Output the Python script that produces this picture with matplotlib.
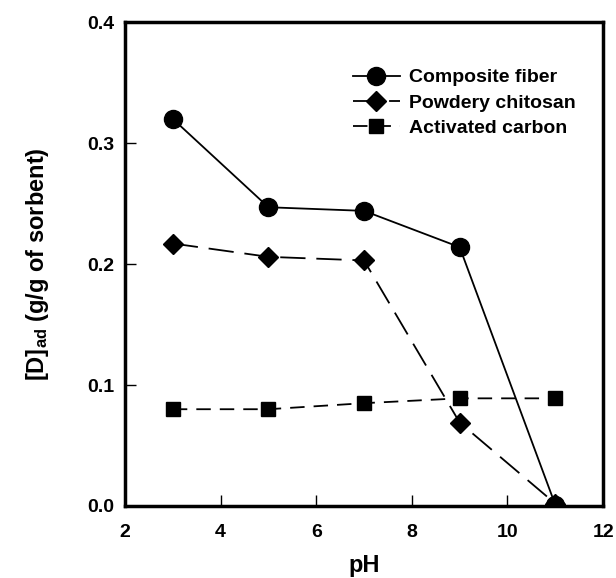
import matplotlib
matplotlib.use("Agg")
import matplotlib.pyplot as plt

plt.rcParams['font.family'] = ['Liberation Sans', 'DejaVu Sans']
plt.rcParams['font.weight'] = 'bold'
plt.rcParams['mathtext.fontset'] = 'custom'
plt.rcParams['mathtext.rm'] = 'Liberation Sans:bold'
plt.rcParams['mathtext.default'] = 'rm'

ph = [3, 5, 7, 9, 11]
composite = [0.320, 0.247, 0.244, 0.214, 0.001]
chitosan = [0.217, 0.206, 0.203, 0.069, 0.002]
carbon = [0.080, 0.080, 0.085, 0.089, 0.089]

fig = plt.figure(figsize=(6.16, 5.78), dpi=100)
ax = fig.add_axes([0.203, 0.1246, 0.776, 0.837])

ax.plot(ph, composite, '-', color='black', lw=1.3, marker='o', ms=13,
        label='Composite fiber')
ax.plot(ph, chitosan, color='black', lw=1.3, marker='D', ms=10,
        dashes=(14, 6), label='Powdery chitosan')
ax.plot(ph, carbon, color='black', lw=1.3, marker='s', ms=10,
        dashes=(8, 5), label='Activated carbon')

ax.set_xlim(2, 12)
ax.set_ylim(0, 0.4)
ax.set_xticks([2, 4, 6, 8, 10, 12])
ax.set_yticks([0.0, 0.1, 0.2, 0.3, 0.4])
ax.yaxis.set_major_formatter(matplotlib.ticker.FormatStrFormatter('%.1f'))
ax.tick_params(direction='in', length=8, width=1, labelsize=14)
ax.tick_params(axis='x', pad=13)
ax.tick_params(axis='y', pad=8)
for s in ax.spines.values():
    s.set_linewidth(2.5)

ax.set_xlabel('pH', fontsize=17, fontweight='bold', labelpad=9)
ax.set_ylabel('[D]$_{ad}$ (g/g of sorbent)', fontsize=17, fontweight='bold', labelpad=26)

ax.legend(loc='upper left', bbox_to_anchor=(0.44, 0.94), frameon=False,
          handlelength=2.4, handletextpad=0.5, labelspacing=0.4,
          prop={'weight': 'bold', 'size': 14})

fig.savefig('out.png', dpi=100)
